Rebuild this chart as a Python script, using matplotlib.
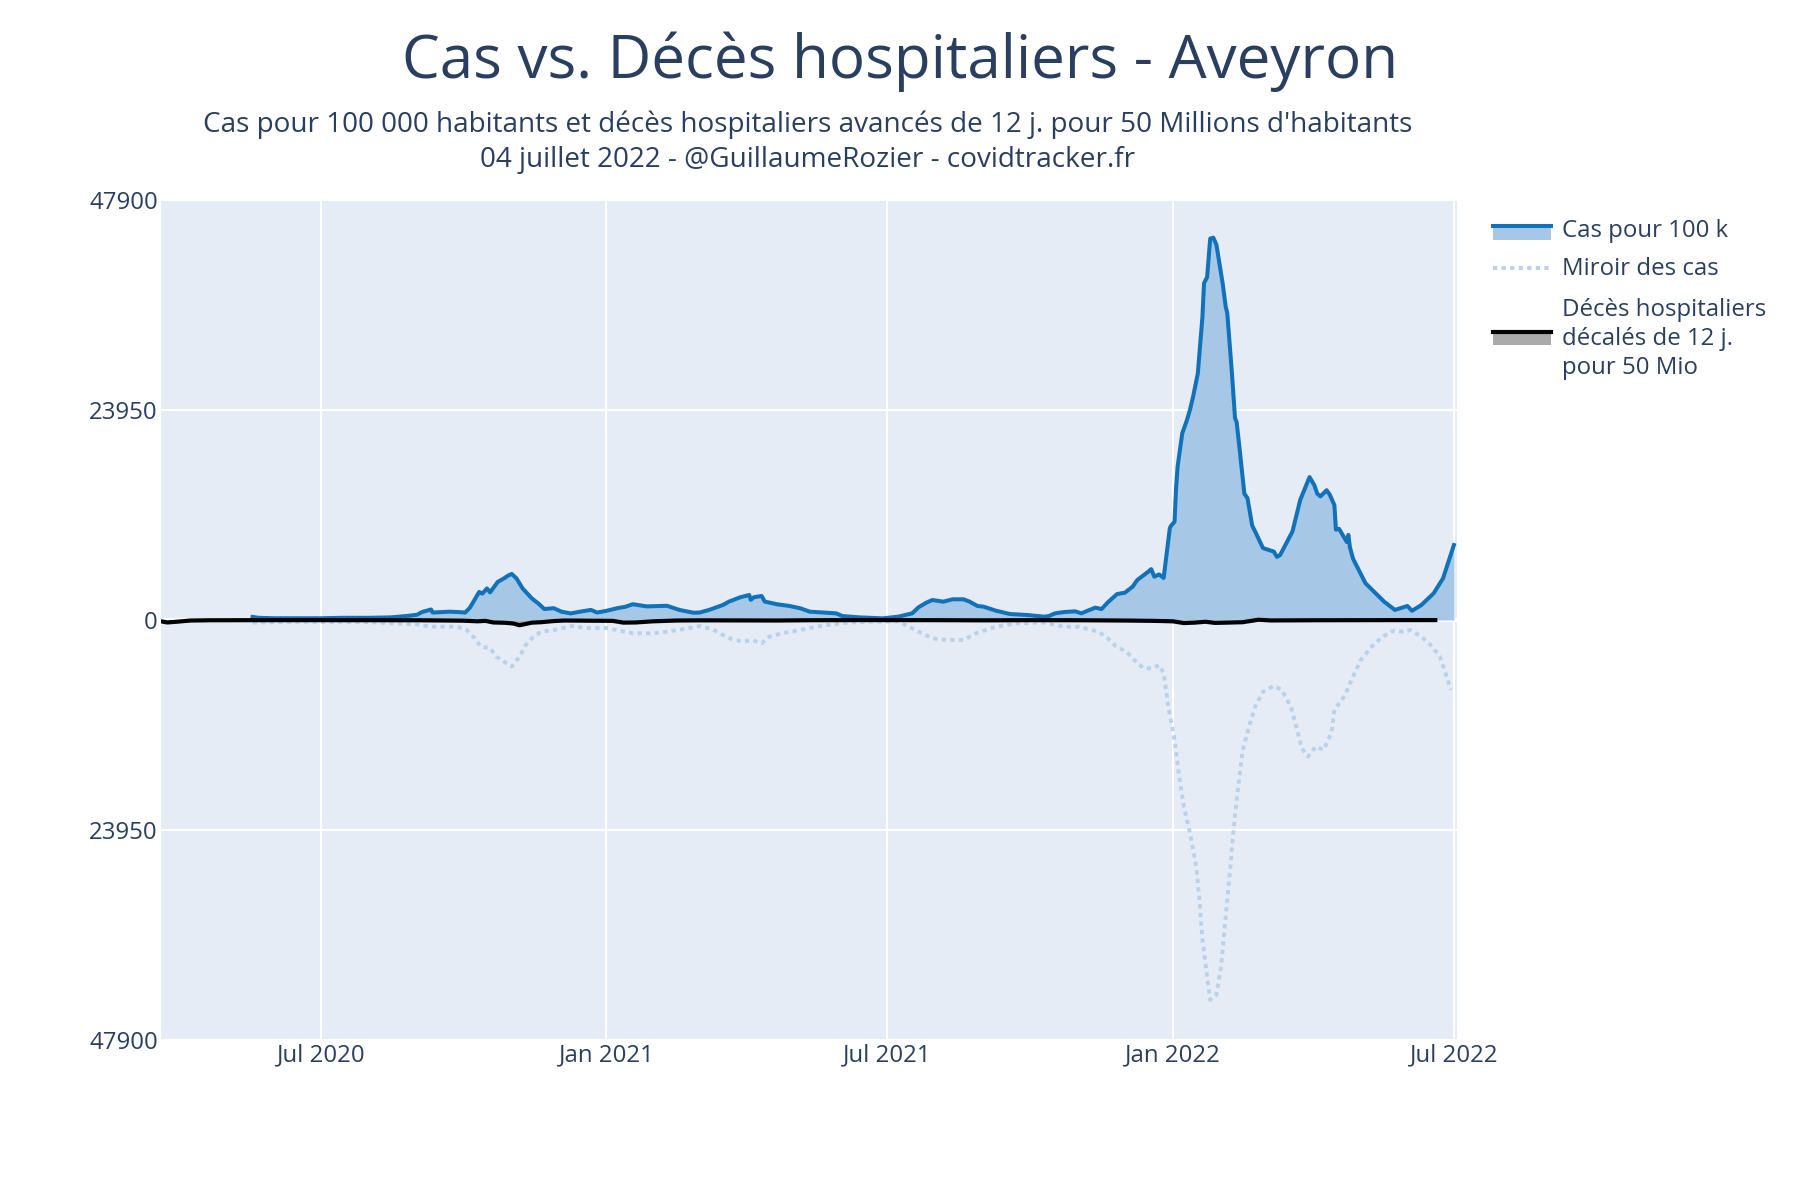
import matplotlib

matplotlib.use("Agg")

import matplotlib.pyplot as plt
import pandas as pd
from matplotlib.lines import Line2D
from matplotlib.patches import Rectangle

# cas pour 100 k (unités de l'axe)
case_dates = [
    "2020-05-18", "2020-05-22", "2020-06-01", "2020-06-15", "2020-07-01", "2020-07-15",
    "2020-08-01", "2020-08-15", "2020-08-25", "2020-09-01", "2020-09-04", "2020-09-08",
    "2020-09-10", "2020-09-11", "2020-09-16", "2020-09-22", "2020-09-28", "2020-10-02",
    "2020-10-05", "2020-10-08", "2020-10-11", "2020-10-13", "2020-10-16", "2020-10-18",
    "2020-10-23", "2020-10-27", "2020-10-30", "2020-11-01", "2020-11-04", "2020-11-08",
    "2020-11-14", "2020-11-18", "2020-11-22", "2020-11-28", "2020-12-03", "2020-12-09",
    "2020-12-15", "2020-12-22", "2020-12-26", "2021-01-01", "2021-01-08", "2021-01-13",
    "2021-01-18", "2021-01-27", "2021-02-09", "2021-02-17", "2021-02-26", "2021-03-02",
    "2021-03-08", "2021-03-17", "2021-03-21", "2021-03-28", "2021-04-03", "2021-04-04",
    "2021-04-06", "2021-04-11", "2021-04-13", "2021-04-21", "2021-04-29", "2021-05-06",
    "2021-05-12", "2021-05-23", "2021-05-29", "2021-06-02", "2021-06-13", "2021-06-28",
    "2021-07-08", "2021-07-17", "2021-07-21", "2021-07-26", "2021-07-30", "2021-08-06",
    "2021-08-12", "2021-08-19", "2021-08-23", "2021-08-28", "2021-09-01", "2021-09-09",
    "2021-09-18", "2021-09-29", "2021-10-10", "2021-10-13", "2021-10-17", "2021-10-23",
    "2021-10-30", "2021-11-03", "2021-11-07", "2021-11-12", "2021-11-16", "2021-11-20",
    "2021-11-26", "2021-12-01", "2021-12-06", "2021-12-09", "2021-12-16", "2021-12-18",
    "2021-12-20", "2021-12-23", "2021-12-26", "2021-12-30", "2021-12-31", "2022-01-02",
    "2022-01-03", "2022-01-04", "2022-01-07", "2022-01-10", "2022-01-12", "2022-01-14",
    "2022-01-17", "2022-01-20", "2022-01-21", "2022-01-23", "2022-01-25", "2022-01-27",
    "2022-01-29", "2022-02-02", "2022-02-04", "2022-02-05", "2022-02-08", "2022-02-10",
    "2022-02-11", "2022-02-13", "2022-02-16", "2022-02-18", "2022-02-21", "2022-02-24",
    "2022-02-28", "2022-03-07", "2022-03-09", "2022-03-11", "2022-03-19", "2022-03-24",
    "2022-03-30", "2022-04-02", "2022-04-04", "2022-04-06", "2022-04-10", "2022-04-12",
    "2022-04-15", "2022-04-16", "2022-04-18", "2022-04-23", "2022-04-24", "2022-04-25",
    "2022-04-27", "2022-05-05", "2022-05-17", "2022-05-24", "2022-06-01", "2022-06-04",
    "2022-06-10", "2022-06-18", "2022-06-24", "2022-07-01",
]
case_values = [
    350, 250, 200, 200, 200, 250,
    250, 300, 450, 600, 900, 1100,
    1200, 850, 900, 950, 900, 850,
    1400, 2300, 3200, 3000, 3600, 3150,
    4350, 4750, 5100, 5250, 4750, 3600,
    2450, 1900, 1250, 1350, 950, 750,
    950, 1150, 850, 1050, 1350, 1500,
    1800, 1550, 1620, 1150, 830, 850,
    1140, 1710, 2100, 2580, 2850, 2300,
    2600, 2740, 2100, 1790, 1600, 1330,
    950, 830, 760, 450, 300, 190,
    380, 760, 1440, 1970, 2280, 2090,
    2360, 2360, 2090, 1600, 1520, 1060,
    680, 570, 380, 450, 760, 910,
    990, 760, 1060, 1410, 1250, 2010,
    2960, 3110, 3800, 4560, 5500, 5800,
    4940, 5200, 4800, 10500, 10800, 11200,
    15000, 17500, 21300, 22800, 24000, 25500,
    28100, 34600, 38400, 39100, 43500, 43600,
    42800, 38400, 35700, 35000, 28100, 23000,
    22600, 19400, 14400, 13900, 10800, 9700,
    8200, 7800, 7200, 7400, 10100, 13700,
    16300, 15400, 14400, 14100, 14800, 14300,
    13100, 10300, 10400, 8900, 9700, 8300,
    7000, 4200, 2100, 1150, 1600, 1050,
    1700, 3050, 4750, 8550,
]

# miroir des cas (négatif)
mirror_dates = [
    "2020-05-18", "2020-06-15", "2020-08-01", "2020-09-01", "2020-09-10", "2020-09-27",
    "2020-10-03", "2020-10-08", "2020-10-12", "2020-10-18", "2020-10-22", "2020-11-01",
    "2020-11-06", "2020-11-10", "2020-11-15", "2020-11-20", "2020-11-28", "2020-12-10",
    "2020-12-18", "2021-01-01", "2021-01-18", "2021-01-31", "2021-02-09", "2021-02-20",
    "2021-03-02", "2021-03-10", "2021-03-17", "2021-03-23", "2021-03-30", "2021-04-05",
    "2021-04-11", "2021-04-16", "2021-04-24", "2021-05-06", "2021-05-16", "2021-05-27",
    "2021-06-06", "2021-06-22", "2021-07-08", "2021-07-19", "2021-07-30", "2021-08-09",
    "2021-08-19", "2021-08-27", "2021-09-09", "2021-09-22", "2021-10-10", "2021-10-23",
    "2021-11-01", "2021-11-14", "2021-11-20", "2021-11-25", "2021-12-02", "2021-12-07",
    "2021-12-13", "2021-12-19", "2021-12-23", "2021-12-26", "2021-12-29", "2022-01-02",
    "2022-01-05", "2022-01-08", "2022-01-12", "2022-01-16", "2022-01-18", "2022-01-20",
    "2022-01-23", "2022-01-25", "2022-01-29", "2022-02-01", "2022-02-04", "2022-02-07",
    "2022-02-09", "2022-02-12", "2022-02-15", "2022-02-19", "2022-02-23", "2022-02-28",
    "2022-03-07", "2022-03-12", "2022-03-18", "2022-03-22", "2022-03-25", "2022-03-29",
    "2022-04-03", "2022-04-08", "2022-04-13", "2022-04-15", "2022-04-22", "2022-04-26",
    "2022-05-02", "2022-05-09", "2022-05-16", "2022-05-23", "2022-05-29", "2022-06-03",
    "2022-06-10", "2022-06-16", "2022-06-22", "2022-06-26", "2022-06-29",
]
mirror_values = [
    -300, -200, -250, -500, -760, -760,
    -1140, -2050, -3040, -3200, -4180, -5320,
    -4180, -2850, -1900, -1330, -1140, -680,
    -910, -910, -1520, -1520, -1330, -1030,
    -700, -1030, -1710, -2200, -2470, -2280,
    -2660, -1900, -1520, -1140, -760, -490,
    -300, -190, -150, -1140, -2090, -2280,
    -2280, -1520, -760, -380, -300, -760,
    -760, -1330, -2090, -2960, -3610, -4560,
    -5510, -5510, -5130, -6080, -9880, -13680,
    -17860, -21280, -24320, -28120, -31920, -36480,
    -40660, -43320, -42750, -39520, -33820, -28120,
    -23940, -19000, -14820, -12160, -9880, -8170,
    -7520, -7980, -9880, -12540, -14630, -15580,
    -14440, -14820, -12920, -10260, -8550, -6840,
    -4560, -3040, -1900, -1220, -1330, -1140,
    -1900, -2850, -4180, -6270, -7980,
]

# décès hospitaliers décalés de 12 j. pour 50 Mio (négatif)
death_dates = [
    "2020-03-20", "2020-03-24", "2020-03-30", "2020-04-08", "2020-04-20", "2020-05-15",
    "2020-07-01", "2020-09-01", "2020-09-20", "2020-10-01", "2020-10-10", "2020-10-15",
    "2020-10-20", "2020-10-28", "2020-11-02", "2020-11-06", "2020-11-10", "2020-11-14",
    "2020-11-20", "2020-11-28", "2020-12-05", "2020-12-20", "2021-01-05", "2021-01-12",
    "2021-01-20", "2021-01-31", "2021-02-15", "2021-03-01", "2021-04-01", "2021-04-20",
    "2021-05-10", "2021-06-15", "2021-08-01", "2021-09-01", "2021-10-01", "2021-11-01",
    "2021-12-01", "2021-12-20", "2022-01-01", "2022-01-08", "2022-01-15", "2022-01-22",
    "2022-01-28", "2022-02-05", "2022-02-15", "2022-02-25", "2022-03-05", "2022-04-01",
    "2022-05-01", "2022-06-01", "2022-06-19",
]
death_values = [
    -150, -280, -200, -60, -30, -20,
    -20, -30, -60, -80, -150, -100,
    -280, -320, -400, -600, -450, -300,
    -250, -120, -60, -80, -100, -300,
    -280, -150, -60, -40, -50, -60,
    -30, -10, -20, -40, -20, -30,
    -60, -100, -150, -350, -300, -200,
    -330, -300, -250, 30, -50, -30,
    -20, -10, -10,
]

y_ticks = [-47900, -23950, 0, 23950, 47900]
y_tick_labels = ["47900", "23950", "0", "23950", "47900"]
x_ticks = ["2020-07-01", "2021-01-01", "2021-07-01", "2022-01-01", "2022-07-01"]
x_tick_labels = ["Jul 2020", "Jan 2021", "Jul 2021", "Jan 2022", "Jul 2022"]

FONT_COLOR = "#2a3f5f"
CASE_LINE = "#1172ba"
CASE_FILL = "#a6c8e6"
MIRROR_COLOR = "#b9d2ea"
DEATH_FILL = "#aaaaaa"
MIRROR_DASH = (0, (1.1, 1.1))


def main() -> None:
    plt.rcParams.update(
        {
            "font.family": ["Open Sans", "DejaVu Sans"],
            "text.color": FONT_COLOR,
            "xtick.color": FONT_COLOR,
            "ytick.color": FONT_COLOR,
        }
    )

    cases_x = pd.to_datetime(case_dates)
    mirror_x = pd.to_datetime(mirror_dates)
    deaths_x = pd.to_datetime(death_dates)

    fig = plt.figure(figsize=(18, 12), dpi=100)
    ax = fig.add_axes([161 / 1800, 1 - 1040 / 1200, 1296 / 1800, 840 / 1200])
    ax.set_facecolor("#e5ecf6")
    for side in ax.spines.values():
        side.set_visible(False)

    ax.fill_between(cases_x, case_values, 0, color=CASE_FILL, linewidth=0, zorder=2)
    ax.plot(cases_x, case_values, color=CASE_LINE, linewidth=2.9, zorder=3)
    ax.plot(mirror_x, mirror_values, color=MIRROR_COLOR, linewidth=2.8,
            linestyle=MIRROR_DASH, zorder=3)
    ax.fill_between(deaths_x, death_values, 0, color=DEATH_FILL, linewidth=0, zorder=4)
    ax.plot(deaths_x, death_values, color="black", linewidth=3.0, zorder=5)

    ax.set_ylim(-47900, 47900)
    ax.set_yticks(y_ticks)
    ax.set_yticklabels(y_tick_labels)
    ax.set_xlim(pd.Timestamp("2020-03-20"), pd.Timestamp("2022-07-03"))
    ax.set_xticks(pd.to_datetime(x_ticks))
    ax.set_xticklabels(x_tick_labels)
    ax.tick_params(axis="both", length=0, labelsize=17.3)
    ax.tick_params(axis="y", pad=2.3)
    ax.tick_params(axis="x", pad=2.5)
    ax.grid(True, color="white", linewidth=1.45, zorder=1)
    ax.axhline(0, color="white", linewidth=2.9, zorder=1)
    ax.set_axisbelow(True)

    fig.text(0.5, 1 - 61.5 / 1200, "Cas vs. Décès hospitaliers - Aveyron",
             ha="center", va="center", fontsize=43.3)
    fig.text(808 / 1800, 1 - 125 / 1200,
             "Cas pour 100 000 habitants et décès hospitaliers avancés de 12 j. "
             "pour 50 Millions d'habitants",
             ha="center", va="center", fontsize=20.1)
    fig.text(808 / 1800, 1 - 160 / 1200,
             "04 juillet 2022 - @GuillaumeRozier - covidtracker.fr",
             ha="center", va="center", fontsize=20.1)

    # légende dessinée à la main, façon plotly
    def fx(px):
        return px / 1800

    def fy(py):
        return 1 - py / 1200

    fig.add_artist(Rectangle((fx(1493), fy(240)), fx(58), 14 / 1200,
                             color=CASE_FILL, linewidth=0))
    fig.add_artist(Line2D([fx(1493), fx(1551)], [fy(226), fy(226)],
                          color=CASE_LINE, linewidth=2.9))
    fig.text(fx(1562), fy(231), "Cas pour 100 k", va="center", fontsize=17.3)

    fig.add_artist(Line2D([fx(1493), fx(1551)], [fy(268), fy(268)],
                          color=MIRROR_COLOR, linewidth=2.8, linestyle=MIRROR_DASH))
    fig.text(fx(1562), fy(269), "Miroir des cas", va="center", fontsize=17.3)

    fig.add_artist(Rectangle((fx(1493), fy(345)), fx(58), 12 / 1200,
                             color=DEATH_FILL, linewidth=0))
    fig.add_artist(Line2D([fx(1493), fx(1551)], [fy(332), fy(332)],
                          color="black", linewidth=3.0))
    fig.text(fx(1562), fy(339), "Décès hospitaliers\ndécalés de 12 j.\npour 50 Mio",
             va="center", fontsize=17.3, linespacing=1.3)

    fig.savefig("out.png", dpi=100, facecolor="white")
    plt.close(fig)


if __name__ == "__main__":
    main()
